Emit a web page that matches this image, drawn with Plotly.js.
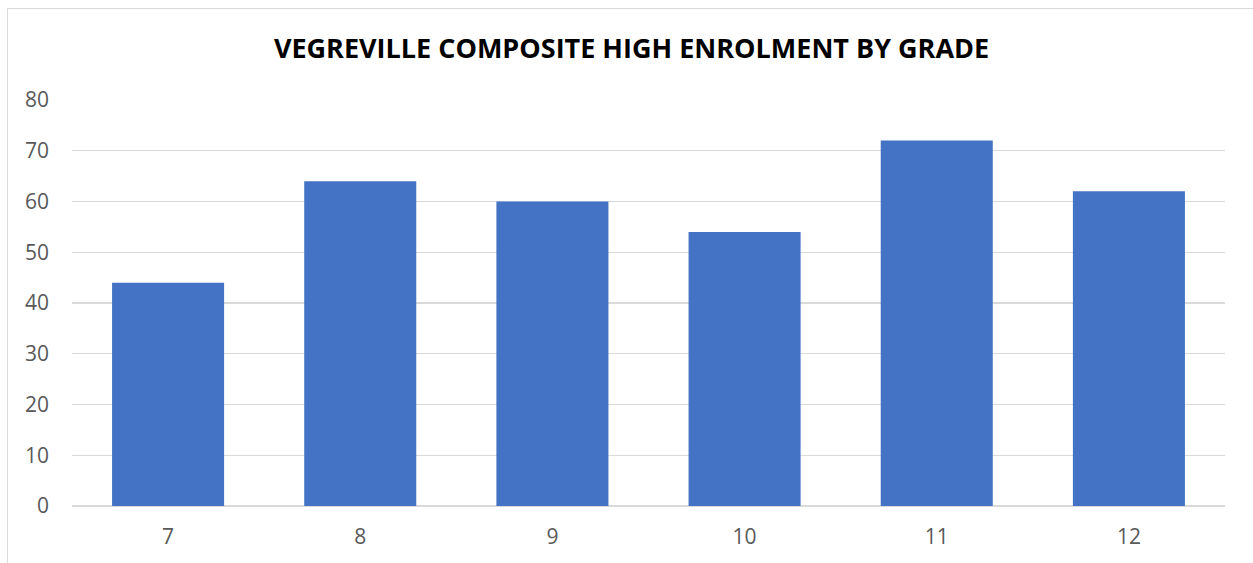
<!DOCTYPE html>
<html><head><meta charset="utf-8">
<script src="https://cdn.plot.ly/plotly-3.0.1.min.js"></script>
<style>
html,body{margin:0;padding:0;background:#fff;overflow:hidden;}
#chart{width:1253px;height:563px;}
#border{position:absolute;left:7px;top:8px;width:1300px;height:600px;border:1.5px solid #d9d9d9;pointer-events:none;}
</style></head>
<body>
<div id="chart"></div>
<div id="border"></div>
<script>
const grades = ['7','8','9','10','11','12'];
const enrolment = [44, 64, 60, 54, 72, 62];
const yTicks = [0,10,20,30,40,50,60,70,80];

Plotly.newPlot('chart', [{
  type: 'bar',
  x: grades,
  y: enrolment,
  marker: {color: '#4472C4'},
  hoverinfo: 'x+y'
}], {
  width: 1253, height: 563,
  margin: {l: 72, r: 28, t: 100, b: 57},
  paper_bgcolor: '#fff', plot_bgcolor: '#fff',
  bargap: 0.417,
  title: {text: '<b>VEGREVILLE COMPOSITE HIGH ENROLMENT BY GRADE</b>',
    font: {family: 'Open Sans, Liberation Sans, sans-serif', size: 27, color: '#000'},
    x: 0.504, xanchor: 'center', y: 0.913, yanchor: 'middle'},
  xaxis: {type: 'category', showgrid: false, showline: false, zeroline: false,
    tickfont: {family: 'Open Sans, Liberation Sans, sans-serif', size: 21, color: '#595959'},
    ticklabelstandoff: 16},
  yaxis: {range: [0, 80], tickvals: yTicks, showgrid: true, gridcolor: '#d9d9d9', gridwidth: 1.3,
    zeroline: true, zerolinecolor: '#d9d9d9', zerolinewidth: 1.5, showline: false,
    tickfont: {family: 'Open Sans, Liberation Sans, sans-serif', size: 21, color: '#595959'},
    ticklabelstandoff: 22},
  showlegend: false
}, {displayModeBar: false, staticPlot: true});
</script>
</body></html>
